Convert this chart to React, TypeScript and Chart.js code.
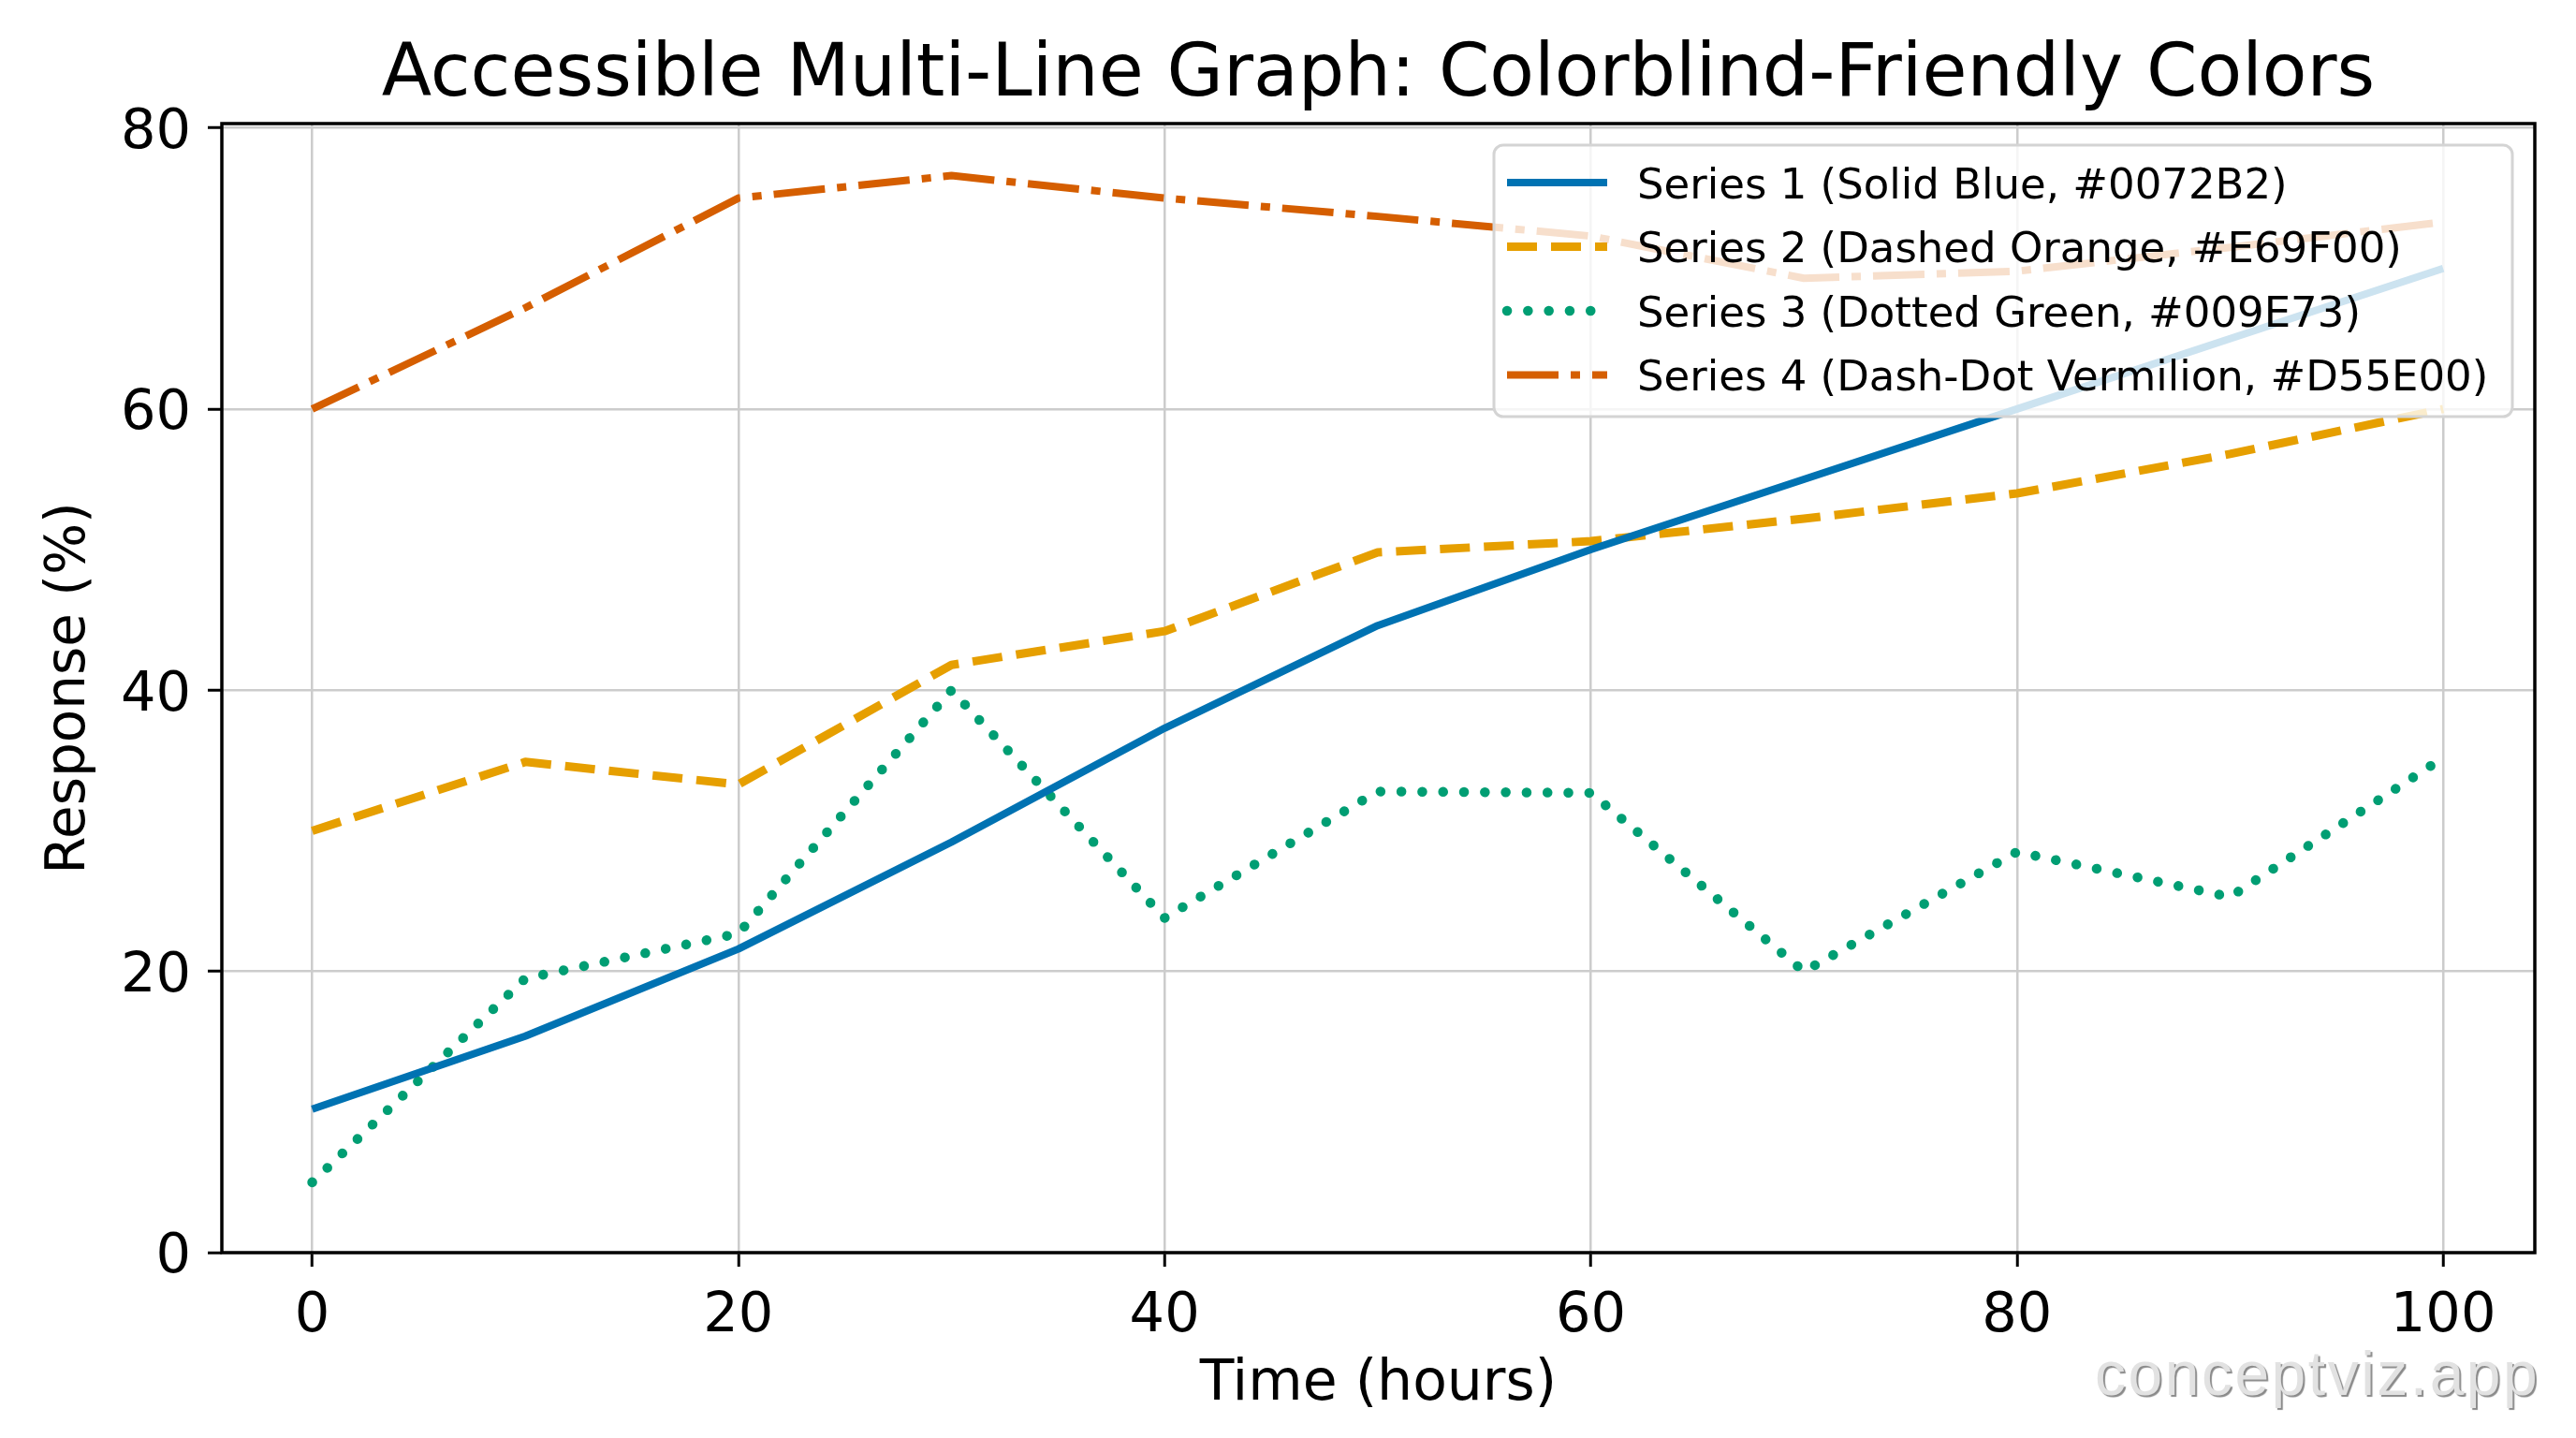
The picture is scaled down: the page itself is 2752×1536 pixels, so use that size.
import React, { useEffect, useRef } from 'react';
import { Chart, registerables } from 'chart.js';

Chart.register(...registerables);

// data
const times = [0, 10, 20, 30, 40, 50, 60, 70, 80, 90, 100];
const series1 = [10.2, 15.4, 21.6, 29.2, 37.3, 44.6, 50.0, 55.0, 60.0, 65.0, 70.0];
const series2 = [30.0, 34.9, 33.3, 41.8, 44.2, 49.8, 50.6, 52.2, 54.0, 56.8, 60.0];
const series3 = [5.0, 19.5, 22.7, 40.0, 23.8, 32.8, 32.7, 20.0, 28.5, 25.3, 35.2];
const series4 = [60.0, 67.2, 75.0, 76.6, 75.0, 73.7, 72.3, 69.3, 69.8, 71.5, 73.3];

const seriesLabels = [
  'Series 1 (Solid Blue, #0072B2)',
  'Series 2 (Dashed Orange, #E69F00)',
  'Series 3 (Dotted Green, #009E73)',
  'Series 4 (Dash-Dot Vermilion, #D55E00)',
];

const xTicks = [0, 20, 40, 60, 80, 100];
const yTicks = [0, 20, 40, 60, 80];

const W = 2752;
const H = 1536;
const FONT = '"DejaVu Sans", sans-serif';

const toPoints = (ys: number[]) => ys.map((y, i) => ({ x: times[i], y }));

// full box around the plot area (matplotlib-style spines)
const framePlugin = {
  id: 'frame',
  afterDatasetsDraw(chart: any) {
    const { ctx, chartArea } = chart;
    ctx.save();
    ctx.strokeStyle = '#000';
    ctx.lineWidth = 3.5;
    ctx.strokeRect(chartArea.left, chartArea.top, chartArea.right - chartArea.left, chartArea.bottom - chartArea.top);
    ctx.restore();
  },
};

// legend box in the upper right corner of the plot
const legendBoxPlugin = {
  id: 'legendBox',
  afterDraw(chart: any) {
    const { ctx, chartArea } = chart;
    const boxRight = chartArea.right - 24;
    const boxLeft = boxRight - 1088;
    const boxTop = chartArea.top + 23;
    const boxH = 290;
    ctx.save();
    ctx.beginPath();
    ctx.roundRect(boxLeft, boxTop, boxRight - boxLeft, boxH, 10);
    ctx.fillStyle = 'rgba(255,255,255,0.8)';
    ctx.fill();
    ctx.lineWidth = 3;
    ctx.strokeStyle = '#d4d4d4';
    ctx.stroke();

    chart.data.datasets.forEach((ds: any, i: number) => {
      const y = boxTop + 40 + i * 68.5;
      ctx.beginPath();
      ctx.setLineDash(ds.borderDash || []);
      ctx.lineDashOffset = 0;
      ctx.lineWidth = ds.borderWidth;
      ctx.strokeStyle = ds.borderColor;
      ctx.lineCap = ds.borderCapStyle || 'butt';
      ctx.moveTo(boxLeft + 14, y);
      ctx.lineTo(boxLeft + 121, y);
      ctx.stroke();
      ctx.setLineDash([]);
      ctx.fillStyle = '#000';
      ctx.font = `45px ${FONT}`;
      ctx.textBaseline = 'alphabetic';
      ctx.textAlign = 'left';
      ctx.fillText(ds.label, boxLeft + 153, y + 16.5);
    });
    ctx.restore();
  },
};

const App: React.FC = () => {
  const canvasRef = useRef<HTMLCanvasElement | null>(null);
  const chartRef = useRef<Chart<'line'> | null>(null);

  useEffect(() => {
    document.body.style.margin = '0';
    document.body.style.overflow = 'hidden';
    if (!canvasRef.current) return;
    const ctx = canvasRef.current.getContext('2d');
    if (!ctx) return;

    if (chartRef.current) chartRef.current.destroy();

    chartRef.current = new Chart(ctx, {
      type: 'line',
      data: {
        datasets: [
          {
            label: seriesLabels[0],
            data: toPoints(series1),
            borderColor: '#0072B2',
            borderWidth: 8,
            borderCapStyle: 'butt',
          },
          {
            label: seriesLabels[1],
            data: toPoints(series2),
            borderColor: '#E69F00',
            borderWidth: 9,
            borderDash: [32, 15],
            borderCapStyle: 'butt',
          },
          {
            label: seriesLabels[2],
            data: toPoints(series3),
            borderColor: '#009E73',
            borderWidth: 10.5,
            borderDash: [0.1, 22.2],
            borderCapStyle: 'round',
          },
          {
            label: seriesLabels[3],
            data: toPoints(series4),
            borderColor: '#D55E00',
            borderWidth: 8,
            borderDash: [55, 13, 10, 13],
            borderCapStyle: 'butt',
          },
        ] as any,
      },
      options: {
        animation: false,
        responsive: false,
        devicePixelRatio: 1,
        layout: { padding: { top: 0, left: 0, right: 44, bottom: 0 } },
        elements: {
          point: { radius: 0, hoverRadius: 0 },
          line: { tension: 0, borderJoinStyle: 'round', fill: false },
        },
        scales: {
          x: {
            type: 'linear',
            min: -4.24,
            max: 104.3,
            afterBuildTicks: (s: any) => {
              s.ticks = xTicks.map((v) => ({ value: v }));
            },
            afterFit: (s: any) => {
              s.height = 198;
            },
            ticks: {
              autoSkip: false,
              maxRotation: 0,
              padding: 18,
              color: '#000',
              font: { family: FONT, size: 59 },
            },
            grid: { color: '#cccccc', lineWidth: 2.5, tickLength: 15, tickColor: '#000', tickWidth: 3 },
            border: { display: false },
            title: {
              display: true,
              text: 'Time (hours)',
              color: '#000',
              font: { family: FONT, size: 60 },
              padding: { top: 0, bottom: 20.6 },
            },
          },
          y: {
            type: 'linear',
            min: 0,
            max: 80.3,
            afterBuildTicks: (s: any) => {
              s.ticks = yTicks.map((v) => ({ value: v }));
            },
            afterFit: (s: any) => {
              s.width = 237;
            },
            ticks: {
              autoSkip: false,
              padding: 18,
              labelOffset: 6,
              color: '#000',
              font: { family: FONT, size: 59 },
            },
            grid: { color: '#cccccc', lineWidth: 2.5, tickLength: 15, tickColor: '#000', tickWidth: 3 },
            border: { display: false },
            title: {
              display: true,
              text: 'Response (%)',
              color: '#000',
              font: { family: FONT, size: 58 },
              padding: { top: 40, bottom: 0 },
            },
          },
        },
        plugins: {
          legend: { display: false },
          tooltip: { enabled: false },
          title: {
            display: true,
            fullSize: false,
            text: 'Accessible Multi-Line Graph: Colorblind-Friendly Colors',
            color: '#000',
            font: { family: FONT, size: 78, weight: 'normal' },
            padding: { top: 35, bottom: 3.4 },
          },
        },
      } as any,
      plugins: [framePlugin, legendBoxPlugin],
    });

    return () => {
      if (chartRef.current) {
        chartRef.current.destroy();
        chartRef.current = null;
      }
    };
  }, []);

  return (
    <div style={{ position: 'relative', width: W, height: H, background: '#fff' }}>
      <canvas ref={canvasRef} width={W} height={H} style={{ display: 'block', width: W, height: H }} />
      <div
        style={{
          position: 'absolute',
          left: 2238,
          top: 1434,
          fontFamily: '"Liberation Sans", Arial, sans-serif',
          fontSize: 66,
          lineHeight: '66px',
          letterSpacing: 2.5,
          color: '#e2e2e2',
          textShadow: '2px 2px 1px #8a8a8a',
          whiteSpace: 'nowrap',
        }}
      >
        conceptviz.app
      </div>
    </div>
  );
};

export default App;
